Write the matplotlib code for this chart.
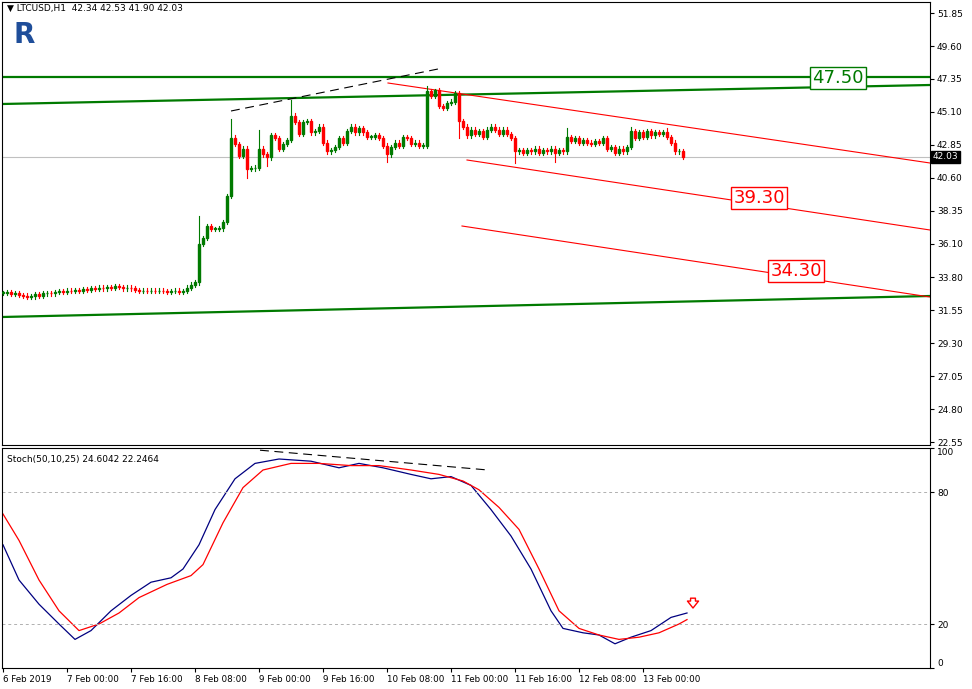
import matplotlib
matplotlib.use("Agg")
import matplotlib.pyplot as plt
from matplotlib.patches import Rectangle

# hourly closes LTCUSD, index 0 = 6 Feb 08:00
closes = [
    32.75, 32.80, 32.65, 32.70, 32.60, 32.55, 32.45, 32.50, 32.65, 32.55,
    32.70, 32.75, 32.70, 32.80, 32.85, 32.80, 32.90, 32.85, 32.95, 32.90,
    33.00, 32.95, 33.05, 33.00, 33.10, 33.05, 33.15, 33.10, 33.20, 33.15,
    33.05, 33.10, 33.05, 32.95, 32.85, 32.90, 32.85, 32.90, 32.85, 32.90,
    32.85, 32.80, 32.85, 32.90, 32.80, 32.85, 33.10, 33.30, 33.45, 36.10,
    36.50, 37.30, 37.10, 37.10, 37.15, 37.60, 39.35, 43.35, 42.90, 42.10,
    42.60, 41.20, 41.25, 41.30, 42.60, 42.20, 42.00, 43.50, 43.30, 42.60,
    42.90, 43.20, 44.85, 44.40, 43.60, 44.40, 44.50, 43.70, 43.80, 44.10,
    43.00, 42.40, 42.50, 42.70, 43.30, 43.00, 43.80, 44.10, 43.70, 44.00,
    43.70, 43.40, 43.40, 43.50, 43.30, 42.80, 42.20, 42.70, 43.00, 42.80,
    43.40, 43.30, 42.90, 43.00, 42.80, 42.80, 46.50, 46.20, 46.60, 45.50,
    45.40, 45.70, 45.80, 46.40, 44.50, 44.10, 43.50, 43.90, 43.60, 43.80,
    43.40, 43.90, 44.10, 43.90, 43.60, 43.90, 43.60, 43.30, 42.40, 42.50,
    42.30, 42.50, 42.40, 42.60, 42.30, 42.50, 42.40, 42.60, 42.30, 42.50,
    42.40, 43.40, 43.10, 43.30, 43.00, 43.20, 43.00, 42.90, 43.10, 43.00,
    43.30, 42.60, 42.70, 42.30, 42.60, 42.40, 42.70, 43.80, 43.30, 43.70,
    43.40, 43.80, 43.50, 43.70, 43.60, 43.70, 43.40, 43.00, 42.40, 42.40,
    42.03,
]
# notable wick extremes (index: price)
highs_extra = {49: 38.0, 57: 44.6, 72: 45.9, 64: 43.9, 106: 46.9, 108: 46.7, 141: 44.0, 157: 44.1, 166: 44.0}
lows_extra = {61: 40.6, 66: 41.4, 96: 41.7, 128: 41.6, 138: 41.7, 114: 43.3}

tick_idx = [0, 16, 32, 48, 64, 80, 96, 112, 128, 144, 160]
tick_labels = ["6 Feb 2019", "7 Feb 00:00", "7 Feb 16:00", "8 Feb 08:00", "9 Feb 00:00",
               "9 Feb 16:00", "10 Feb 08:00", "11 Feb 00:00", "11 Feb 16:00",
               "12 Feb 08:00", "13 Feb 00:00"]
price_ticks = [51.85, 49.60, 47.35, 45.10, 42.85, 40.60, 38.35, 36.10, 33.80, 31.55,
               29.30, 27.05, 24.80, 22.55]

# stochastic, read at sample positions (candle index)
stoch_main_x = [0, 4, 9, 14, 18, 22, 27, 32, 37, 42, 45, 49, 53, 58, 63, 69, 77, 84, 89, 95,
                102, 107, 112, 117, 122, 127, 132, 137, 140, 145, 149, 153, 157, 162, 167, 171]
stoch_main = [56, 40, 29, 20, 13, 17, 26, 33, 39, 41, 45, 56, 72, 86, 93, 95, 94, 91, 93, 91,
              88, 86, 87, 83, 72, 60, 45, 26, 18, 16, 15, 11, 14, 17, 23, 25]
stoch_sig_x = [0, 4, 9, 14, 19, 24, 29, 34, 41, 47, 50, 55, 60, 65, 72, 79, 87, 94, 102, 109,
               115, 119, 124, 129, 134, 139, 144, 149, 154, 159, 164, 169, 171]
stoch_sig = [70, 58, 40, 26, 17, 20, 25, 32, 38, 42, 47, 66, 82, 90, 93, 93, 92, 92, 90, 88,
             85, 81, 73, 63, 45, 26, 18, 15, 13, 14, 16, 20, 22]

GREEN = "#007a00"
RED = "#ff0000"

fig = plt.figure(figsize=(9.72, 6.89), dpi=100)
W, H = 972, 689
ax = fig.add_axes([2 / W, 1 - 445 / H, 928 / W, 443 / H])
ax2 = fig.add_axes([2 / W, 1 - 668 / H, 928 / W, 220 / H])

x_of = lambda px: (px - 3) / 4.0
y_of = lambda py: 47.35 + (79 - py) / 14.64

# candles
prev = closes[0]
for i, c in enumerate(closes):
    o = prev if i > 0 else c
    col = GREEN if c >= o else RED
    hi = highs_extra.get(i, max(o, c) + 0.15)
    lo = lows_extra.get(i, min(o, c) - 0.15)
    ax.plot([i, i], [lo, hi], color=col, lw=0.8, zorder=3)
    h = max(abs(c - o), 0.05)
    ax.add_patch(Rectangle((i - 0.36, min(o, c)), 0.72, h, color=col, zorder=4))
    prev = c

# levels and channels
ax.axhline(47.50, color=GREEN, lw=1.6)
ax.plot([x_of(2), x_of(930)], [y_of(104), y_of(85)], color=GREEN, lw=1.6)
ax.plot([x_of(2), x_of(930)], [y_of(317), y_of(296)], color=GREEN, lw=1.6)
ax.plot([x_of(388), x_of(930)], [y_of(83), y_of(163)], color=RED, lw=0.8)
ax.plot([x_of(467), x_of(930)], [y_of(160), y_of(230)], color=RED, lw=0.8)
ax.plot([x_of(462), x_of(930)], [y_of(226), y_of(297)], color=RED, lw=0.8)
ax.plot([x_of(231), x_of(438)], [y_of(111), y_of(69)], color="black", lw=0.8, ls=(0, (8, 5)))
ax.axhline(42.03, color="#c0c0c0", lw=0.8, zorder=1)

ax.text(x_of(838), y_of(78), "47.50", color=GREEN, fontsize=13, ha="center", va="center",
        bbox=dict(boxstyle="square,pad=0.1", fc="white", ec=GREEN, lw=1))
ax.text(x_of(759), y_of(198), "39.30", color=RED, fontsize=13, ha="center", va="center",
        bbox=dict(boxstyle="square,pad=0.1", fc="white", ec=RED, lw=1))
ax.text(x_of(796), y_of(271), "34.30", color=RED, fontsize=13, ha="center", va="center",
        bbox=dict(boxstyle="square,pad=0.1", fc="white", ec=RED, lw=1))

ax.set_xlim(x_of(2), x_of(930))
ax.set_ylim(y_of(445), y_of(2))
ax.yaxis.tick_right()
ax.set_yticks(price_ticks)
ax.set_yticklabels([f"{p:.2f}" for p in price_ticks], fontsize=6.5)
ax.set_xticks([])
ax.tick_params(axis="y", length=3, pad=2)
ax.text(0.005, 0.995, "\u25bc LTCUSD,H1  42.34 42.53 41.90 42.03", transform=ax.transAxes,
        fontsize=6.5, va="top", ha="left")
ax.text(0.012, 0.925, "R", transform=ax.transAxes, fontsize=20, fontweight="bold",
        color="#1f4e9a", va="center")
ax.text(1.003, 42.03, "42.03", transform=ax.get_yaxis_transform(), fontsize=6.5, color="white",
        va="center", ha="left", bbox=dict(boxstyle="square,pad=0.15", fc="black", ec="black"))

# stochastic
ax2.plot(stoch_main_x, stoch_main, color="#000080", lw=0.9)
ax2.plot(stoch_sig_x, stoch_sig, color=RED, lw=0.9)
ax2.axhline(80, color="#b0b0b0", lw=0.7, ls=(0, (3, 3)))
ax2.axhline(20, color="#b0b0b0", lw=0.7, ls=(0, (3, 3)))
ax2.plot([x_of(260), x_of(488)], [99, 90], color="black", lw=0.8, ls=(0, (8, 5)))
ax2.annotate("", xy=(x_of(693), 26), xytext=(x_of(693), 33),
             arrowprops=dict(arrowstyle="simple,head_width=0.8,tail_width=0.35", fc="white", ec=RED, lw=1))
ax2.set_xlim(x_of(2), x_of(930))
ax2.set_ylim(0, 100)
ax2.yaxis.tick_right()
ax2.set_yticks([0, 20, 80, 100])
ax2.set_yticklabels(["0", "20", "80", "100"], fontsize=6.5)
ylabs = ax2.get_yticklabels()
ylabs[0].set_va("bottom")
ylabs[3].set_va("top")
ax2.set_xticks(tick_idx)
ax2.set_xticklabels(tick_labels, fontsize=6.3, ha="left")
ax2.tick_params(axis="x", length=3, pad=2)
ax2.tick_params(axis="y", length=3, pad=2)
ax2.text(0.005, 0.97, "Stoch(50,10,25) 24.6042 22.2464", transform=ax2.transAxes,
         fontsize=6.5, va="top", ha="left")

fig.savefig("out.png", dpi=100)
